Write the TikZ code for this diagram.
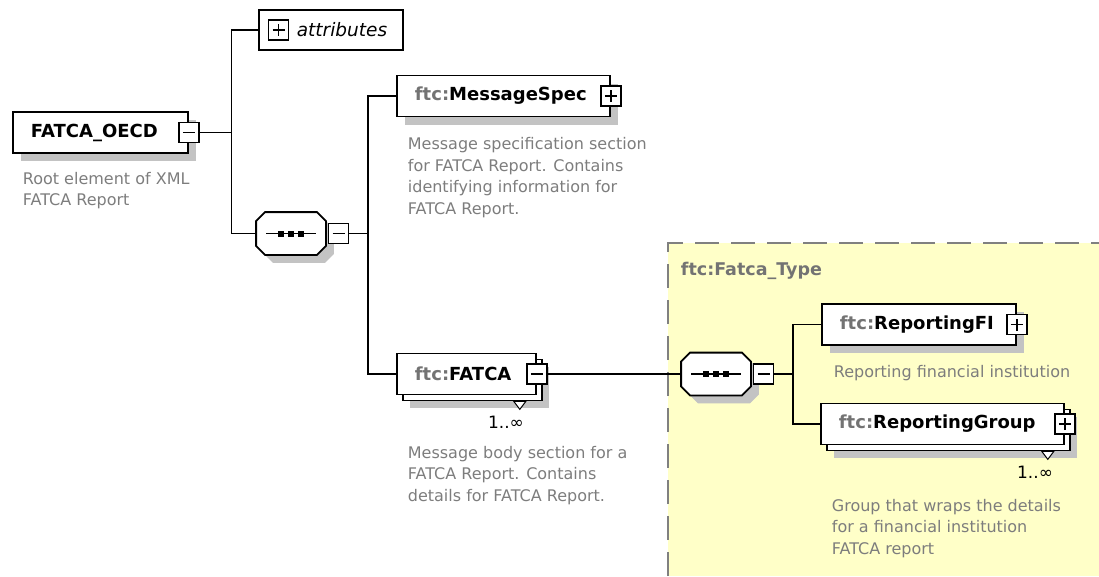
\documentclass[tikz,border=0pt]{standalone}
\usepackage{fontspec}
\setmainfont{DejaVu Sans}
\usepackage{xcolor}
\usepackage{tikz}
\usetikzlibrary{shadows, positioning, calc}

\definecolor{shadowgray}{RGB}{195,195,195}
\definecolor{typeyellow}{RGB}{255,255,200}
\definecolor{descgray}{RGB}{125,125,125}
\definecolor{nsgray}{RGB}{115,115,115}
\newcommand{\ftc}[1]{{\color{nsgray}ftc:}#1}

\begin{document}
\begin{tikzpicture}[
    x=1pt, y=-1pt,
    line width=1.8pt,
    box/.style={draw, fill=white, anchor=west, minimum height=41pt, inner xsep=18pt, align=left, font=\fontsize{18}{21}\selectfont\bfseries},
    elem/.style={box, drop shadow={shadow xshift=8pt, shadow yshift=-8pt, fill=shadowgray, opacity=1}},
    multi/.style={box, drop shadow={shadow xshift=13pt, shadow yshift=-13pt, fill=shadowgray, opacity=1}, copy shadow={shadow xshift=6pt, shadow yshift=-6pt, fill=white, draw=black}},
    seq/.style={minimum width=68pt, minimum height=41pt, inner sep=0pt,
        append after command={\pgfextra{
            \draw[fill=white, drop shadow={shadow xshift=8pt, shadow yshift=-8pt, fill=shadowgray, opacity=1}]
                ([xshift=9pt]\tikzlastnode.north west) -- ([xshift=-9pt]\tikzlastnode.north east)
                -- ([yshift=-9pt]\tikzlastnode.north east) -- ([yshift=9pt]\tikzlastnode.south east)
                -- ([xshift=-9pt]\tikzlastnode.south east) -- ([xshift=9pt]\tikzlastnode.south west)
                -- ([yshift=9pt]\tikzlastnode.south west) -- ([yshift=-9pt]\tikzlastnode.north west) -- cycle;
            \draw[line width=1.5pt] ([xshift=-25pt]\tikzlastnode.center) -- ([xshift=25pt]\tikzlastnode.center);
            \foreach \dx in {-10,0,10}
                \fill ([xshift=\dx pt]\tikzlastnode.center) +(-3pt,-3pt) rectangle +(3pt,3pt);
        }}},
    btn/.style={draw, fill=white, minimum size=20pt, inner sep=0pt, line width=1.4pt},
    minus/.style={btn, path picture={
            \draw[black, line width=1.4pt] ([xshift=-6pt]path picture bounding box.center) -- ([xshift=6pt]path picture bounding box.center);}},
    plus/.style={btn, path picture={
            \draw[black, line width=1.4pt] ([xshift=-6pt]path picture bounding box.center) -- ([xshift=6pt]path picture bounding box.center)
                ([yshift=-6pt]path picture bounding box.center) -- ([yshift=6pt]path picture bounding box.center);}},
    desc/.style={anchor=north west, inner sep=0pt, align=left, text=descgray, font=\fontsize{16}{21.5}\selectfont},
    mult/.style={inner sep=0pt, anchor=base east, font=\fontsize{17}{20}\selectfont},
    tri/.style={draw, fill=white, line width=1pt}
]
    \useasboundingbox (0,0) rectangle (1099,576);

    % complex type area
    \fill[typeyellow] (668,243) rectangle (1099,576);
    \draw[gray, line width=2pt, dash pattern=on 24pt off 12pt] (668,576) -- (668,243) -- (1099,243);
    \node[anchor=base west, inner sep=0pt, text=nsgray, font=\fontsize{17.5}{21}\selectfont\bfseries] (ftype) at (680,275) {ftc:Fatca\_Type};

    % root
    \node[elem, text width=139pt] (oecd) at (12,132.5) {FATCA\_OECD};
    \node[minus] (oecdbtn) at (oecd.east) {};
    \node[desc, below right=17.5pt and 10pt of oecd.south west] (oecddesc) {Root element of XML\\FATCA Report};

    \node[box, text width=124pt, inner xsep=10pt, minimum height=40pt, font=\fontsize{18.5}{21}\selectfont\itshape] (attr) at (258,30) {\hspace*{28pt}\mbox{attributes}};
    \node[plus, right=10pt of attr.west] (attrbtn) {};

    \node[seq] (seq1) at (291,233.5) {};
    \node[minus, right=2pt of seq1] (seq1btn) {};

    % children of the root sequence
    \node[elem, text width=177pt] (msgspec) at (396,96) {\ftc{MessageSpec}};
    \node[plus] (msgbtn) at (msgspec.east) {};
    \node[desc, below right=19.5pt and 11pt of msgspec.south west] (msgdesc) {Message specification section\\for FATCA Report. Contains\\identifying information for\\FATCA Report.};

    \node[multi, text width=103pt] (fatca) at (396,374) {\ftc{FATCA}};
    \node[minus] (fatcabtn) at (fatca.east) {};
    \coordinate (fatcatip) at ([shift={(-17pt,-14pt)}]fatca.south east);
    \draw[tri] (fatcatip) -- ++(-6pt,8pt) -- ++(12pt,0pt) -- cycle;
    \node[mult] (fatcamult) at ([shift={(5pt,-19.5pt)}]fatcatip) {1..∞};
    \node[desc, below right=50pt and 11pt of fatca.south west] (fatcadesc) {Message body section for a\\FATCA Report. Contains\\details for FATCA Report.};

    % Fatca_Type content
    \node[seq] (seq2) at (716,374) {};
    \node[minus, right=2pt of seq2] (seq2btn) {};

    \node[elem, text width=158pt] (rfi) at (821,324.5) {\ftc{ReportingFI}};
    \node[plus] (rfibtn) at (rfi.east) {};
    \node[desc, below right=19pt and 12pt of rfi.south west] (rfidesc) {Reporting financial institution};

    \node[multi, text width=207pt] (rgroup) at (820,424) {\ftc{ReportingGroup}};
    \node[plus] (rgroupbtn) at (rgroup.east) {};
    \coordinate (rgrouptip) at ([shift={(-17pt,-14pt)}]rgroup.south east);
    \draw[tri] (rgrouptip) -- ++(-6pt,8pt) -- ++(12pt,0pt) -- cycle;
    \node[mult] (rgroupmult) at ([shift={(6pt,-19.5pt)}]rgrouptip) {1..∞};
    \node[desc, below right=53pt and 11pt of rgroup.south west] (rgroupdesc) {Group that wraps the details\\for a financial institution\\FATCA report};

    % connectors
    \coordinate (j1) at ([xshift=32pt]oecdbtn.east);
    \draw (oecdbtn.east) -- (j1);
    \draw (attr.west) -| (j1) |- (seq1.west);

    \coordinate (j2) at ([xshift=19pt]seq1btn.east);
    \draw (seq1btn.east) -- (j2);
    \draw (msgspec.west) -| (j2) |- (fatca.west);

    \draw (fatcabtn.east) -- (seq2.west);

    \coordinate (j3) at ([xshift=19pt]seq2btn.east);
    \draw (seq2btn.east) -- (j3);
    \draw (rfi.west) -| (j3) |- (rgroup.west);
\end{tikzpicture}
\end{document}
